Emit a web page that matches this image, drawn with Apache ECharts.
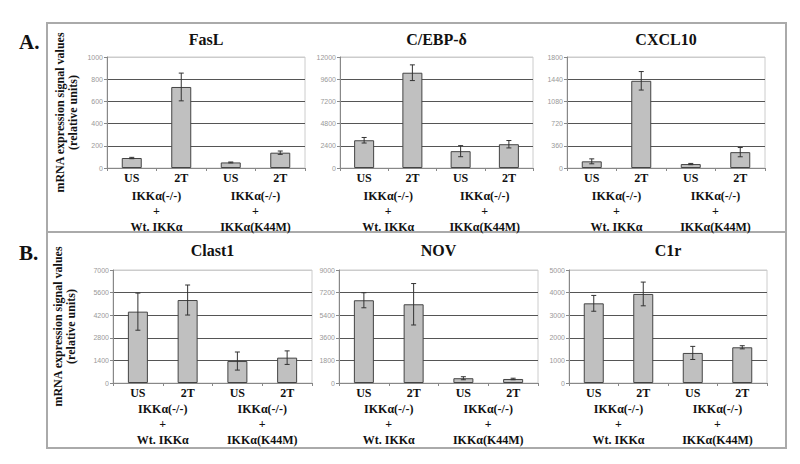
<!DOCTYPE html>
<html>
<head>
<meta charset="utf-8">
<script src="https://cdn.jsdelivr.net/npm/echarts@6/dist/echarts.min.js"></script>
<style>
html,body{margin:0;padding:0;background:#fff;}
#c{width:800px;height:464px;}
</style>
</head>
<body>
<div id="c"></div>
<script>
// ---- data ----
const categories = ['US', '2T', 'US', '2T'];
const groupLabels = ['IKKα(-/-)\n+\nWt. IKKα', 'IKKα(-/-)\n+\nIKKα(K44M)'];
const genes = ['FasL', 'C/EBP-δ', 'CXCL10', 'Clast1', 'NOV', 'C1r'];
const fasL = [90, 730, 50, 138];
const fasLErr = [6, 125, 4, 15];
const cebpd = [3000, 10300, 1820, 2570];
const cebpdErr = [300, 850, 600, 400];
const cxcl10 = [108, 1414, 64, 257];
const cxcl10Err = [40, 150, 10, 75];
const clast1 = [4420, 5140, 1360, 1570];
const clast1Err = [1150, 930, 560, 420];
const nov = [6590, 6270, 380, 320];
const novErr = [600, 1650, 120, 60];
const c1r = [3525, 3940, 1330, 1580];
const c1rErr = [350, 525, 290, 70];
const yMax = [1000, 12000, 1800, 7000, 9000, 5000];
const yStep = [200, 2400, 360, 1400, 1800, 1000];
const yTitle = 'mRNA expression signal values\n(relative units)';
const panelLabels = ['A.', 'B.'];

const values = [fasL, cebpd, cxcl10, clast1, nov, c1r];
const errors = [fasLErr, cebpdErr, cxcl10Err, clast1Err, novErr, c1rErr];

// ---- layout ----
const grids = [
  {left: 107, top: 57, width: 198, height: 111},
  {left: 340, top: 57, width: 193, height: 111},
  {left: 567, top: 57, width: 198, height: 111},
  {left: 113, top: 270, width: 199, height: 113},
  {left: 339, top: 270, width: 199, height: 113},
  {left: 569, top: 270, width: 198, height: 113}
];
const serif = '"Liberation Serif","Times New Roman",serif';

const chart = echarts.init(document.getElementById('c'), null, {renderer: 'svg'});

function renderErr(params, api) {
  const x = api.value(0);
  const lo = api.coord([x, api.value(1)]);
  const hi = api.coord([x, api.value(2)]);
  const w = 2.5;
  const st = {stroke: '#333', lineWidth: 1};
  return {
    type: 'group',
    children: [
      {type: 'line', shape: {x1: hi[0], y1: hi[1], x2: lo[0], y2: lo[1]}, style: st},
      {type: 'line', shape: {x1: hi[0] - w, y1: hi[1], x2: hi[0] + w, y2: hi[1]}, style: st},
      {type: 'line', shape: {x1: lo[0] - w, y1: lo[1], x2: lo[0] + w, y2: lo[1]}, style: st}
    ]
  };
}

const titles = genes.map((g, i) => ({
  text: g,
  left: grids[i].left + grids[i].width / 2,
  top: i < 3 ? 31 : 242,
  textAlign: 'center',
  padding: 0,
  textStyle: {fontFamily: serif, fontWeight: 'bold', fontSize: 16, color: '#111'}
}));
panelLabels.forEach((p, k) => {
  titles.push({
    text: p, left: 19, top: k === 0 ? 31 : 242, padding: 0,
    textStyle: {fontFamily: serif, fontWeight: 'bold', fontSize: 21, color: '#111'}
  });
});

const xAxes = [];
const yAxes = [];
const series = [];
grids.forEach((g, i) => {
  xAxes.push({
    type: 'category', gridIndex: i, data: categories, position: 'bottom',
    axisLine: {show: true, lineStyle: {color: '#888', width: 1}},
    axisTick: {show: true, length: 3, interval: 0, lineStyle: {color: '#888'}},
    axisLabel: {margin: 4, interval: 0, fontFamily: serif, fontWeight: 'bold', fontSize: 12, color: '#111'},
    splitLine: {show: false}
  });
  xAxes.push({
    type: 'category', gridIndex: i, data: groupLabels, position: 'bottom',
    axisLine: {show: false}, axisTick: {show: false}, splitLine: {show: false},
    axisLabel: {margin: i < 3 ? 20 : 18, interval: 0, fontFamily: serif, fontWeight: 'bold',
      fontSize: 12, lineHeight: 15.5, color: '#111'}
  });
  const row0 = i === 0 || i === 3;
  yAxes.push({
    type: 'value', gridIndex: i, min: 0, max: yMax[i], interval: yStep[i],
    axisLine: {show: true, lineStyle: {color: '#888', width: 1}},
    axisTick: {show: true, length: 3, lineStyle: {color: '#888'}},
    axisLabel: {fontSize: 7, color: '#999', margin: 4, fontFamily: '"Liberation Sans", Arial, sans-serif',
      formatter: v => String(v)},
    splitLine: {show: true, lineStyle: {color: ['#555', '#555', '#555', '#555', '#555', '#ccc'], width: 1.2}},
    name: row0 ? yTitle : '',
    nameLocation: 'middle',
    nameRotate: 90,
    nameGap: i === 0 ? 28 : 36,
    nameTextStyle: {fontFamily: serif, fontWeight: 'bold', fontSize: 12, lineHeight: 13, color: '#111'}
  });
  series.push({
    type: 'bar', xAxisIndex: i * 2, yAxisIndex: i, data: values[i], barWidth: 20,
    itemStyle: {color: '#c0c0c0', borderColor: '#444', borderWidth: 1},
    silent: true, animation: false
  });
  series.push({
    type: 'custom', xAxisIndex: i * 2, yAxisIndex: i, z: 5,
    data: values[i].map((v, j) => [j, v - errors[i][j], v + errors[i][j]]),
    renderItem: renderErr, silent: true, animation: false
  });
});

chart.setOption({
  backgroundColor: '#fff',
  animation: false,
  title: titles,
  grid: grids.map(g => Object.assign({show: true, borderColor: '#ccc', borderWidth: 1, containLabel: false}, g)),
  xAxis: xAxes,
  yAxis: yAxes,
  series: series,
  graphic: [
    {type: 'rect', shape: {x: 47, y: 23, width: 739, height: 209}, style: {fill: 'none', stroke: '#aaa', lineWidth: 2}, silent: true},
    {type: 'rect', shape: {x: 47, y: 232, width: 739, height: 216}, style: {fill: 'none', stroke: '#aaa', lineWidth: 2}, silent: true}
  ]
});
</script>
</body>
</html>
